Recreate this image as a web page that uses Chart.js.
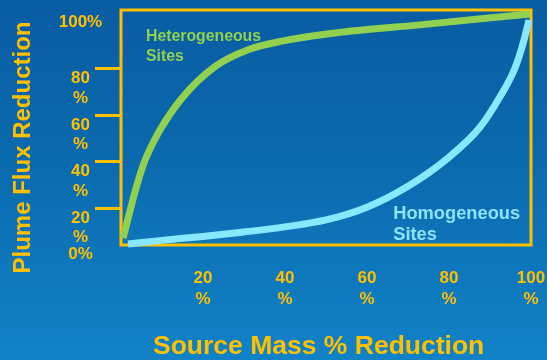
<!DOCTYPE html>
<html>
<head>
<meta charset="utf-8">
<script src="https://cdn.jsdelivr.net/npm/chart.js@4/dist/chart.umd.min.js"></script>
<style>
  html, body { margin: 0; padding: 0; }
  body {
    width: 547px; height: 360px; overflow: hidden;
    background: linear-gradient(to bottom, #0a5ca2 0%, #0b6aae 45%, #1282c7 100%);
  }
  canvas { display: block; }
</style>
</head>
<body>
<canvas id="chart" width="547" height="360"></canvas>
<script>
// Source mass reduction (%) vs. plume flux reduction (%)
const heteroMass = [0.5, 2.0, 3.4, 5.6, 9.5, 14.9, 22.9, 31.0, 39.3, 52.2, 72.9, 99.8];
const heteroFlux = [7.2, 17.5, 27.0, 39.5, 53.7, 67.5, 81.0, 88.3, 92.0, 95.5, 99.0, 103.7];

const homoMass = [1.7, 10, 20, 30, 40, 50, 60, 70, 80, 87.6, 92.4, 96.1, 98.3, 99.5];
const homoFlux = [4.6, 6.2, 7.9, 9.8, 12.0, 15.0, 20.5, 29.5, 42.0, 55.0, 67.9, 80.4, 92.5, 101.1];

const fluxTicks = [0, 20, 40, 60, 80, 100];
const massTicks = [0, 20, 40, 60, 80, 100];

const seriesNames = ['Homogeneous Sites', 'Heterogeneous Sites'];

const GOLD = '#ffc000';
const GREEN = '#92d050';
const CYAN = '#88e8ff';
const FONT = '"Liberation Sans", Arial, sans-serif';

const toPoints = (xs, ys) => xs.map((x, i) => ({ x: x, y: ys[i] }));

// Frame around the plotting area
const framePlugin = {
  id: 'frame',
  beforeDatasetsDraw(chart) {
    const { ctx, chartArea: a } = chart;
    ctx.save();
    ctx.strokeStyle = GOLD;
    ctx.lineWidth = 3;
    ctx.strokeRect(a.left, a.top, a.right - a.left, a.bottom - a.top);
    ctx.restore();
  }
};

// Series captions written inside the plot
const captionPlugin = {
  id: 'captions',
  afterDatasetsDraw(chart) {
    const { ctx } = chart;
    const xs = chart.scales.x, ys = chart.scales.y;
    ctx.save();
    ctx.textAlign = 'left';
    ctx.textBaseline = 'alphabetic';

    ctx.fillStyle = GREEN;
    ctx.font = 'bold 15.8px ' + FONT;
    const hx = xs.getPixelForValue(6.1), hy = ys.getPixelForValue(91.9);
    ctx.fillText('Heterogeneous', hx, hy);
    ctx.fillText('Sites', hx, hy + 19.5);

    ctx.fillStyle = '#8de2fa';
    ctx.font = 'bold 18.3px ' + FONT;
    const mx = xs.getPixelForValue(66.4), my = ys.getPixelForValue(15.4);
    ctx.fillText('Homogeneous', mx, my);
    ctx.fillText('Sites', mx, my + 21.5);
    ctx.restore();
  }
};

new Chart(document.getElementById('chart'), {
  type: 'line',
  data: {
    datasets: [
      {
        label: seriesNames[0],
        data: toPoints(homoMass, homoFlux),
        borderColor: CYAN,
        borderWidth: 7,
        pointRadius: 0,
        fill: false,
        cubicInterpolationMode: 'monotone',
        clip: false
      },
      {
        label: seriesNames[1],
        data: toPoints(heteroMass, heteroFlux),
        borderColor: GREEN,
        borderWidth: 7,
        pointRadius: 0,
        fill: false,
        cubicInterpolationMode: 'monotone',
        clip: false
      }
    ]
  },
  options: {
    responsive: false,
    animation: false,
    layout: { padding: { top: 10, right: 16, bottom: 0, left: 0 } },
    plugins: {
      legend: { display: false },
      tooltip: { enabled: false }
    },
    scales: {
      x: {
        type: 'linear',
        min: 0,
        max: 100,
        bounds: 'data',
        afterBuildTicks: s => { s.ticks = massTicks.map(v => ({ value: v })); },
        afterFit: s => { s.height = 115; s.paddingLeft = 0; s.paddingRight = 0; },
        border: { display: false },
        grid: { display: false, drawTicks: false },
        ticks: {
          autoSkip: false,
          maxRotation: 0,
          padding: 22.4,
          color: GOLD,
          font: { family: FONT, size: 17, weight: 'bold', lineHeight: 1.25 },
          callback: v => (v === 0 ? null : [String(v), '%'])
        },
        title: {
          display: true,
          text: 'Source Mass % Reduction  ',
          color: GOLD,
          font: { family: FONT, size: 26.5, weight: 'bold', lineHeight: 1 },
          padding: { top: 0, bottom: 0 }
        }
      },
      y: {
        type: 'linear',
        min: 4.2,
        max: 105.4,
        bounds: 'data',
        afterBuildTicks: s => { s.ticks = fluxTicks.map(v => ({ value: v })); },
        afterFit: s => { s.width = 121; s.paddingTop = 0; s.paddingBottom = 0; },
        border: { display: false },
        grid: {
          display: true,
          drawOnChartArea: false,
          drawTicks: true,
          tickLength: 26,
          tickWidth: 3,
          tickColor: c => (c.tick && (c.tick.value === 0 || c.tick.value === 100)) ? 'rgba(0,0,0,0)' : GOLD
        },
        ticks: {
          autoSkip: false,
          crossAlign: 'center',
          padding: -7.2,
          color: GOLD,
          font: { family: FONT, size: 17, weight: 'bold', lineHeight: 1.15 },
          callback: v => (v === 0 || v === 100) ? v + '%' : ['', '', String(v), '%']
        },
        title: {
          display: true,
          text: 'Plume Flux Reduction      ',
          color: GOLD,
          font: { family: FONT, size: 24, weight: 'bold', lineHeight: 1.2 },
          padding: { top: 9.3, bottom: 0 }
        }
      }
    }
  },
  plugins: [framePlugin, captionPlugin]
});
</script>
</body>
</html>
